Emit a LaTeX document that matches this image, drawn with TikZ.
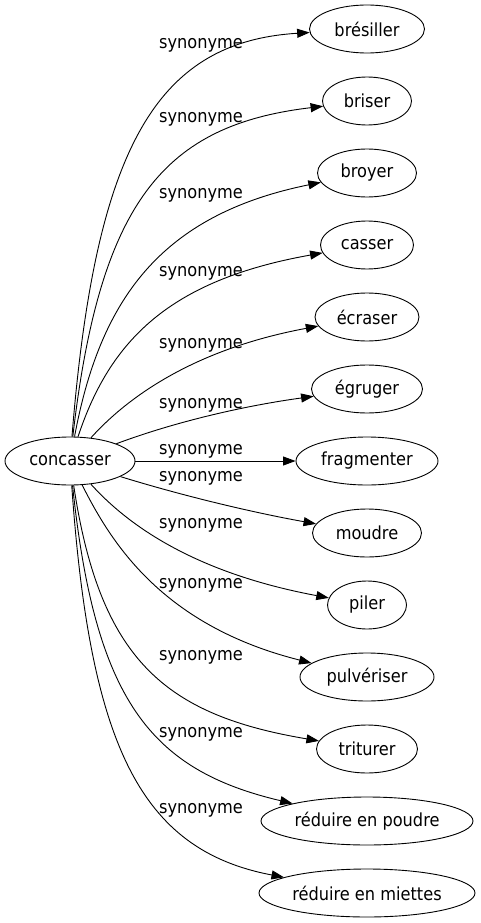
\documentclass[tikz,border=0pt]{standalone}
\usepackage{fontspec}
\setmainfont{DejaVu Sans Condensed}
\usetikzlibrary{arrows.meta,shapes.geometric}
\begin{document}
\begin{tikzpicture}[x=1pt,y=-1pt,
  nd/.style={draw,ellipse,line width=0.9pt,inner sep=0pt,minimum height=48pt,font=\fontsize{18}{21}\selectfont},
  lab/.style={inner sep=0pt,font=\fontsize{18}{21}\selectfont},
  edge/.style={draw,line width=0.9pt,-{Triangle[length=12.5pt,width=9pt]}}]
\useasboundingbox (0,0) rectangle (481,923);
\node[nd,minimum width=130pt] (c) at (70,461) {concasser};
\node[nd,minimum width=115pt] (n0) at (367,29) {brésiller};
\node[nd,minimum width=89pt] (n1) at (367,101) {briser};
\node[nd,minimum width=99pt] (n2) at (367,173) {broyer};
\node[nd,minimum width=93pt] (n3) at (367,245) {casser};
\node[nd,minimum width=104pt] (n4) at (367,317) {écraser};
\node[nd,minimum width=111pt] (n5) at (367,389) {égruger};
\node[nd,minimum width=142pt] (n6) at (367,461) {fragmenter};
\node[nd,minimum width=109pt] (n7) at (367,533) {moudre};
\node[nd,minimum width=79pt] (n8) at (367,605) {piler};
\node[nd,minimum width=134pt] (n9) at (367,677) {pulvériser};
\node[nd,minimum width=101pt] (n10) at (367,749) {triturer};
\node[nd,minimum width=212pt] (n11) at (367,821) {réduire en poudre};
\node[nd,minimum width=216pt] (n12) at (367,893) {réduire en miettes};
\node[lab] (l0) at (201,45) {synonyme};
\node[lab] (l1) at (201,119) {synonyme};
\node[lab] (l2) at (201,195) {synonyme};
\node[lab] (l3) at (201,273) {synonyme};
\node[lab] (l4) at (201,345) {synonyme};
\node[lab] (l5) at (201,405) {synonyme};
\node[lab] (l6) at (201,451) {synonyme};
\node[lab] (l7) at (201,478) {synonyme};
\node[lab] (l8) at (201,525) {synonyme};
\node[lab] (l9) at (201,585) {synonyme};
\node[lab] (l10) at (201,657) {synonyme};
\node[lab] (l11) at (201,734) {synonyme};
\node[lab] (l12) at (201,810) {synonyme};
\draw[edge] (c) .. controls (95,150) and (155,42) .. (n0);
\draw[edge] (c) .. controls (100,200) and (165,125) .. (n1);
\draw[edge] (c) .. controls (100,300) and (160,215) .. (n2);
\draw[edge] (c) .. controls (110,340) and (170,280) .. (n3);
\draw[edge] (c) .. controls (125,400) and (190,350) .. (n4);
\draw[edge] (c) .. controls (180,420) and (250,405) .. (n5);
\draw[edge] (c) -- (n6);
\draw[edge] (c) .. controls (180,495) and (250,512) .. (n7);
\draw[edge] (c) .. controls (125,522) and (190,572) .. (n8);
\draw[edge] (c) .. controls (110,540) and (160,625) .. (n9);
\draw[edge] (c) .. controls (100,660) and (165,715) .. (n10);
\draw[edge] (c) .. controls (95,700) and (150,770) .. (n11);
\draw[edge] (c) .. controls (90,745) and (140,850) .. (n12);
\end{tikzpicture}
\end{document}
